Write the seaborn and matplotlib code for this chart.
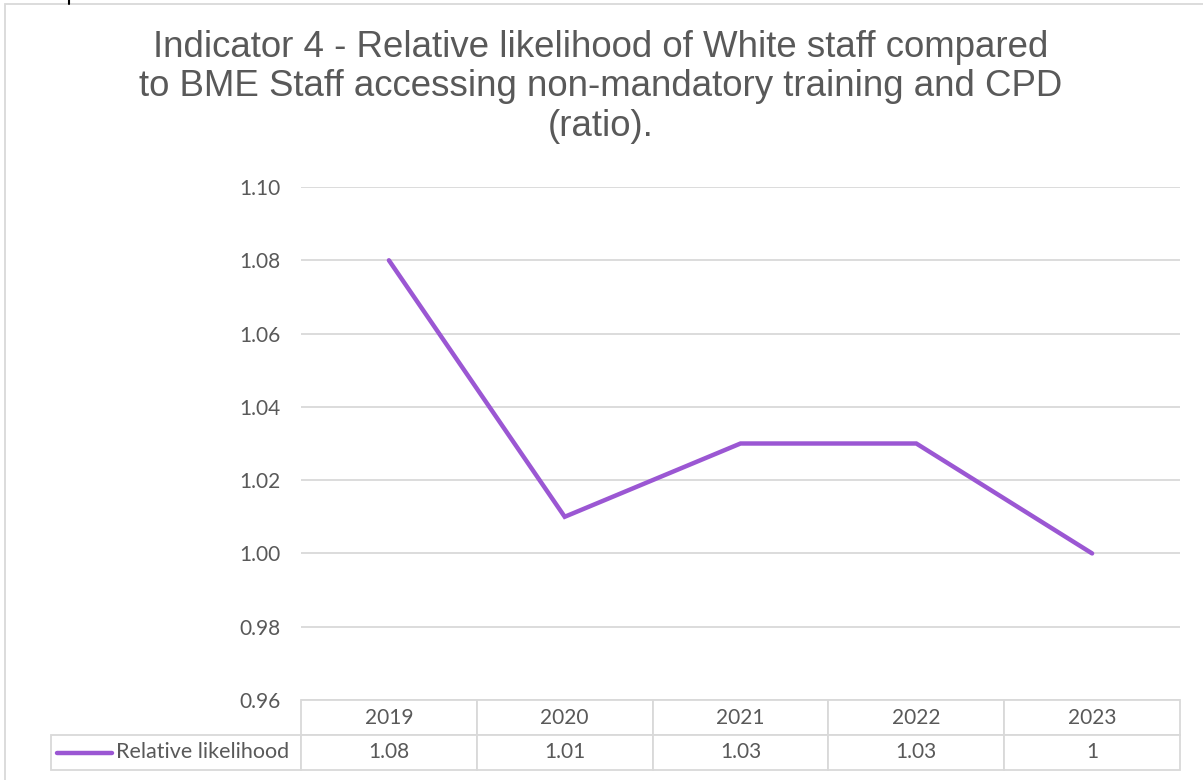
import numpy as np
import pandas as pd
import matplotlib
matplotlib.use("Agg")
import matplotlib.pyplot as plt
from matplotlib.lines import Line2D
from matplotlib.patches import Rectangle
import seaborn as sns

years = ["2019", "2020", "2021", "2022", "2023"]
ratio = [1.08, 1.01, 1.03, 1.03, 1.00]
series_name = "Relative likelihood"
yticks = [0.96, 0.98, 1.00, 1.02, 1.04, 1.06, 1.08, 1.10]
title = ("Indicator 4 - Relative likelihood of White staff compared\n"
         "to BME Staff accessing non-mandatory training and CPD\n"
         "(ratio).")

sns.set_theme(style="white")
plt.rcParams['font.family'] = ['Lato', 'DejaVu Sans']

W, H = 1203, 780
fig = plt.figure(figsize=(W / 100, H / 100), dpi=100)

# axes placed in pixel terms
x0, x1, ytop, ybot = 301, 1180, 187, 700
ax = fig.add_axes([x0 / W, 1 - ybot / H, (x1 - x0) / W, (ybot - ytop) / H])

df = pd.DataFrame({"year": years, "ratio": ratio})
line_col = "#9b57d3"
grid_col = "#d9d9d9"
text_col = "#595959"
fs = 15

sns.lineplot(data=df, x="year", y="ratio", ax=ax, color=line_col,
             linewidth=3.2, solid_capstyle="round", solid_joinstyle="miter")

ax.set_xlim(-0.5, len(years) - 0.5)
ax.set_ylim(yticks[0], yticks[-1])
ax.set_yticks(yticks)
ax.set_yticklabels([f"{v:.2f}" for v in yticks], fontsize=fs, color=text_col)
ax.yaxis.grid(True, color=grid_col, linewidth=1.3)
ax.xaxis.grid(False)
ax.set_xticks([])
ax.set_xlabel("")
ax.set_ylabel("")
ax.tick_params(axis="y", length=0, pad=15)
for s in ax.spines.values():
    s.set_visible(False)

# data table under the plot
axw = x1 - x0
axh = ybot - ytop
legw = 250
rowh = 35
cells = [[""] + years, [""] + [f"{v:g}" for v in ratio]]
tbl = ax.table(cellText=cells, cellLoc="center",
               colWidths=[legw] + [axw / len(years)] * len(years),
               bbox=[-legw / axw, -2 * rowh / axh, (axw + legw) / axw, 2 * rowh / axh])
tbl.auto_set_font_size(False)
for (r, c), cell in tbl.get_celld().items():
    cell.set_edgecolor(grid_col)
    cell.set_linewidth(1.3)
    cell.get_text().set_fontsize(fs)
    cell.get_text().set_color(text_col)
    if r == 0 and c == 0:
        cell.visible_edges = ""

# legend key inside the row-label cell
ly = 1 - (ybot + rowh * 1.5) / H
fig.add_artist(Line2D([57 / W, 112 / W], [ly, ly], color=line_col, linewidth=3.2,
                      solid_capstyle="round", transform=fig.transFigure))
fig.text(116 / W, ly, series_name, fontsize=15.5, color=text_col, va="center", ha="left")

# title
fig.text(0.4995, 1 - 87 / H, title, ha="center", va="center", fontsize=26.4,
         color=text_col, family=["Liberation Sans", "DejaVu Sans"], linespacing=1.15)

# chart area border
fig.add_artist(Rectangle((4.5 / W, -0.01), 1.05, 1 - 4.5 / H + 0.01, transform=fig.transFigure,
                         fill=False, edgecolor=grid_col, linewidth=1.3))
# fragment of text above the chart
fig.add_artist(Line2D([68.5 / W, 68.5 / W], [1, 1 - 4 / H], color="black", linewidth=1.5,
                      transform=fig.transFigure))

fig.savefig("out.png", dpi=100)
